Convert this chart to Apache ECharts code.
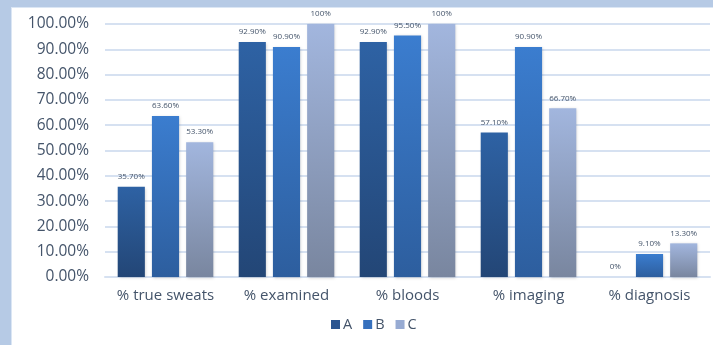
<!DOCTYPE html>
<html><head><meta charset="utf-8">
<script src="https://cdn.jsdelivr.net/npm/echarts@6/dist/echarts.min.js"></script>
<style>html,body{margin:0;padding:0;background:#fff}#c{width:713px;height:345px}</style>
</head><body><div id="c"></div>
<script>
var categories = ['% true sweats', '% examined', '% bloods', '% imaging', '% diagnosis'];
var seriesNames = ['A', 'B', 'C'];
var valuesA = [35.7, 92.9, 92.9, 57.1, 0];
var valuesB = [63.6, 90.9, 95.5, 90.9, 9.1];
var valuesC = [53.3, 100, 100, 66.7, 13.3];
var yTicks = [0, 10, 20, 30, 40, 50, 60, 70, 80, 90, 100];

function lbl(v) {
  if (v === 100 || v === 0) return v + '%';
  return v.toFixed(2) + '%';
}
function grad(top, bottom) {
  return new echarts.graphic.LinearGradient(0, 0, 0, 1, [{offset: 0, color: top}, {offset: 1, color: bottom}]);
}
var colors = [grad('#2e62a4', '#234676'), grad('#3b7dcf', '#2d5e9e'), grad('#a2b6de', '#79869f')];
var legendColors = ['#2a5590', '#3670bd', '#97abd3'];
var data = [valuesA, valuesB, valuesC];

var chart = echarts.init(document.getElementById('c'));
chart.setOption({
  animation: false,
  backgroundColor: '#ffffff',
  graphic: [
    {type: 'rect', shape: {x: 0, y: 0, width: 713, height: 7}, style: {fill: '#b6cae5'}, z: 100},
    {type: 'rect', shape: {x: 0, y: 7, width: 713, height: 1}, style: {fill: '#dbe6f4'}, z: 100},
    {type: 'rect', shape: {x: 0, y: 0, width: 11, height: 345}, style: {fill: '#b6cae5'}, z: 100},
    {type: 'rect', shape: {x: 11, y: 7, width: 1, height: 338}, style: {fill: '#dbe6f4'}, z: 100}
  ],
  grid: {left: 105, right: 3, top: 24, bottom: 68},
  legend: {
    bottom: 8, left: 326,
    itemWidth: 9, itemHeight: 9, itemGap: 11,
    icon: 'rect',
    textStyle: {color: '#44546a', fontSize: 14.5, fontFamily: 'Open Sans', padding: [0, 0, 0, -2]},
    data: seriesNames.map(function (n, i) { return {name: n, itemStyle: {color: legendColors[i]}}; })
  },
  xAxis: {
    type: 'category', data: categories,
    axisLine: {lineStyle: {color: '#d6e1f1', width: 2}},
    axisTick: {show: false},
    axisLabel: {color: '#44546a', fontSize: 15, fontFamily: 'Open Sans', margin: 11, interval: 0, hideOverlap: false}
  },
  yAxis: {
    type: 'value', min: 0, max: 100, interval: 10,
    axisLine: {show: false}, axisTick: {show: false},
    splitLine: {lineStyle: {color: '#d6e1f1', width: 2}},
    axisLabel: {color: '#44546a', fontSize: 15.5, fontFamily: 'Open Sans', margin: 16,
      formatter: function (v) { return yTicks.indexOf(v) >= 0 ? v.toFixed(2) + '%' : ''; }}
  },
  series: seriesNames.map(function (n, i) {
    return {
      name: n, type: 'bar', data: data[i],
      barGap: '26%', barCategoryGap: '21%',
      itemStyle: {color: colors[i], shadowColor: 'rgba(0,0,0,0.18)', shadowBlur: 3, shadowOffsetX: 1, shadowOffsetY: 1},
      label: {show: true, position: 'top', distance: 6, color: '#44546a', fontSize: 8, fontFamily: 'Open Sans',
        formatter: function (p) { return lbl(p.value); }}
    };
  })
});
</script></body></html>
